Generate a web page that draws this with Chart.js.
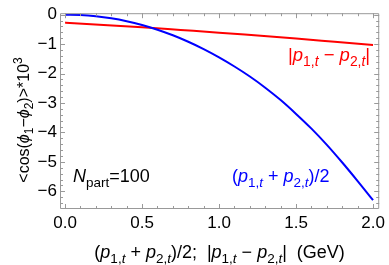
<!DOCTYPE html>
<html>
<head>
<meta charset="utf-8">
<script src="https://cdn.jsdelivr.net/npm/chart.js@4.4.0/dist/chart.umd.min.js"></script>
<style>
  html, body { margin: 0; padding: 0; background: #fff; }
  #wrap { width: 389px; height: 265px; }
</style>
</head>
<body>
<div id="wrap"><canvas id="c" width="389" height="265"></canvas></div>
<script>
// ---- data ----
const sumX = [0.0,0.1,0.2,0.3,0.4,0.5,0.6,0.7,0.8,0.9,1.0,1.1,1.2,1.3,1.4,1.5,1.6,1.7,1.8,1.9,2.0];
const sumValues = [0.00,-0.01,-0.05,-0.12,-0.22,-0.35,-0.51,-0.70,-0.92,-1.17,-1.45,-1.76,-2.10,-2.48,-2.90,-3.37,-3.87,-4.42,-5.02,-5.65,-6.30];
const diffX = [0.0,0.25,0.5,0.75,1.0,1.25,1.5,1.75,2.0];
const diffValues = [-0.27,-0.35,-0.43,-0.52,-0.61,-0.71,-0.81,-0.92,-1.03];
const xTickValues = [0.0,0.5,1.0,1.5,2.0];
const yTickValues = [0,-1,-2,-3,-4,-5,-6];

const FONT = '"Liberation Sans", Arial, Helvetica, sans-serif';
const SUB = 0.75;

function toPts(xs, ys) { return xs.map((x, i) => ({ x: x, y: ys[i] })); }

// rich text: segments {t, i (italic), l: 0 | 'sub' | 'sup'}
function segFont(s, size) {
  const sz = s.l ? size * SUB : size;
  return (s.i ? 'italic ' : '') + sz + 'px ' + FONT;
}
function richWidth(ctx, segs, size) {
  let w = 0;
  segs.forEach(s => { ctx.font = segFont(s, size); w += ctx.measureText(s.t).width; });
  return w;
}
function drawRich(ctx, segs, x, y, align, size, color) {
  ctx.save();
  ctx.fillStyle = color;
  ctx.textBaseline = 'alphabetic';
  ctx.textAlign = 'left';
  const w = richWidth(ctx, segs, size);
  let cx = align === 'center' ? x - w / 2 : (align === 'right' ? x - w : x);
  segs.forEach(s => {
    ctx.font = segFont(s, size);
    let dy = 0;
    if (s.l === 'sub') dy = size * 0.28;
    if (s.l === 'sup') dy = -size * 0.45;
    ctx.fillText(s.t, cx, y + dy);
    cx += ctx.measureText(s.t).width;
  });
  ctx.restore();
}

const pSum = [
  {t:'('}, {t:'p', i:true}, {t:'1,', l:'sub'}, {t:'t', i:true, l:'sub'}, {t:' + '},
  {t:'p', i:true}, {t:'2,', l:'sub'}, {t:'t', i:true, l:'sub'}, {t:')/2'}
];
const pDiff = [
  {t:'|'}, {t:'p', i:true}, {t:'1,', l:'sub'}, {t:'t', i:true, l:'sub'}, {t:' \u2212 '},
  {t:'p', i:true}, {t:'2,', l:'sub'}, {t:'t', i:true, l:'sub'}, {t:'|'}
];
const xTitle = pSum.concat([{t:';  '}], pDiff, [{t:'  (GeV)'}]);
const yTitle = [
  {t:'<cos('}, {t:'\u03d5', i:true}, {t:'1', l:'sub'}, {t:'\u2212'}, {t:'\u03d5', i:true}, {t:'2', l:'sub'},
  {t:')>*10'}, {t:'3', l:'sup'}
];
const npart = [{t:'N', i:true}, {t:'part', l:'sub'}, {t:'=100'}];

const framePlugin = {
  id: 'frame',
  afterDraw(chart) {
    const ctx = chart.ctx;
    const a = chart.chartArea;
    const xs = chart.scales.x, ys = chart.scales.y;
    ctx.save();
    ctx.strokeStyle = '#999999';
    ctx.lineWidth = 1;
    ctx.beginPath();
    ctx.rect(a.left + 0.5, a.top + 0.5, a.right - a.left - 1, a.bottom - a.top - 1);
    ctx.stroke();
    ctx.beginPath();
    // x ticks (minor every 0.1, major every 0.5)
    for (let k = 0; k <= 20; k++) {
      const v = k / 10;
      const px = Math.round(xs.getPixelForValue(v)) + 0.5;
      const len = (k % 5 === 0) ? 5 : 3;
      ctx.moveTo(px, a.bottom); ctx.lineTo(px, a.bottom - len);
      ctx.moveTo(px, a.top); ctx.lineTo(px, a.top + len);
    }
    // y ticks (minor every 0.2, major every 1)
    for (let k = 0; k <= 32; k++) {
      const v = -k / 5;
      const py = Math.round(ys.getPixelForValue(v)) + 0.5;
      const len = (k % 5 === 0) ? 5 : 3;
      ctx.moveTo(a.left, py); ctx.lineTo(a.left + len, py);
      ctx.moveTo(a.right, py); ctx.lineTo(a.right - len, py);
    }
    ctx.stroke();
    ctx.restore();

    // in-plot labels
    drawRich(ctx, npart, 73, 182, 'left', 18, '#000');
    drawRich(ctx, pSum, 232, 182, 'left', 18, '#0000ff');
    drawRich(ctx, pDiff, 288, 61, 'left', 18.5, '#ff0000');

    // axis titles
    drawRich(ctx, xTitle, (a.left + a.right) / 2, 258, 'center', 18, '#000');
    ctx.save();
    ctx.translate(29, 120);
    ctx.rotate(-Math.PI / 2);
    drawRich(ctx, yTitle, 0, 0, 'center', 16, '#000');
    ctx.restore();
  }
};

new Chart(document.getElementById('c'), {
  type: 'line',
  data: {
    datasets: [
      { data: toPts(sumX, sumValues), borderColor: '#0000ff', borderWidth: 2, pointRadius: 0,
        cubicInterpolationMode: 'monotone', fill: false },
      { data: toPts(diffX, diffValues), borderColor: '#ff0000', borderWidth: 2, pointRadius: 0,
        cubicInterpolationMode: 'monotone', fill: false }
    ]
  },
  options: {
    responsive: false,
    animation: false,
    devicePixelRatio: 1,
    layout: { padding: { left: 0, right: 7, top: 10, bottom: 0 } },
    plugins: { legend: { display: false }, tooltip: { enabled: false }, title: { display: false } },
    scales: {
      x: {
        type: 'linear', min: -0.033, max: 2.04,
        grid: { display: false, drawTicks: false },
        border: { display: false },
        afterBuildTicks(s) { s.ticks = xTickValues.map(v => ({ value: v })); },
        afterFit(s) { s.height = 56; },
        ticks: { color: '#000', font: { family: FONT, size: 17 }, padding: 4, maxRotation: 0,
                 callback: v => Number(v).toFixed(1) }
      },
      y: {
        type: 'linear', min: -6.6, max: 0.05,
        grid: { display: false, drawTicks: false },
        border: { display: false },
        afterBuildTicks(s) { s.ticks = yTickValues.map(v => ({ value: v })); },
        afterFit(s) { s.width = 60; },
        ticks: { color: '#000', font: { family: FONT, size: 17 }, padding: 3,
                 callback: v => String(v).replace('-', '\u2212') }
      }
    }
  },
  plugins: [framePlugin]
});
</script>
</body>
</html>
